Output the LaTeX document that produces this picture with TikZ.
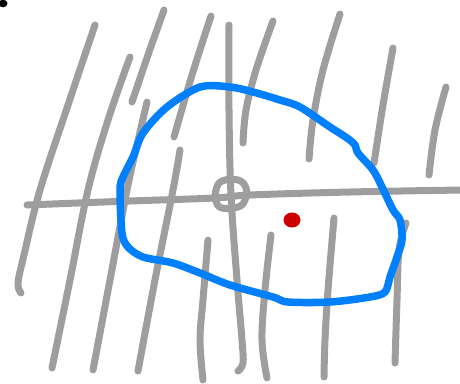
\documentclass[tikz,border=0pt]{standalone}
\definecolor{sketchgrey}{RGB}{158,158,158}
\definecolor{sketchblue}{RGB}{0,128,255}
\definecolor{sketchred}{RGB}{204,0,0}
\begin{document}
\begin{tikzpicture}[x=1pt,y=-1pt,
  pen/.style={line width=7pt,line cap=round,line join=round},
  grey/.style={pen,draw=sketchgrey},
  bluepen/.style={line width=7.5pt,line cap=round,line join=round,draw=sketchblue}]
\useasboundingbox (0,0) rectangle (460,383);
% black dot
\fill[black] (3,3.5) ellipse [x radius=4.5, y radius=3.8];
% slanted strokes
\draw[grey] plot[smooth,tension=0.6] coordinates {(95,25) (68,105) (40,190) (24,255) (18,283) (21,293)};
\draw[grey] plot[smooth,tension=0.6] coordinates {(130,57) (108,120) (88,190) (70,280) (52,368)};
\draw[grey] plot[smooth,tension=0.6] coordinates {(164,10) (148,55) (132,102)};
\draw[grey] plot[smooth,tension=0.6] coordinates {(147,102) (137,145) (127,190) (110,280) (93,370)};
\draw[grey] plot[smooth,tension=0.6] coordinates {(211,16) (192,75) (174,137)};
\draw[grey] plot[smooth,tension=0.6] coordinates {(180,150) (173,190) (155,280) (138,371)};
\draw[grey] plot[smooth,tension=0.6] coordinates {(229,25) (229,110) (231,195) (237,280) (242,340) (243,363) (238,371)};
\draw[grey] plot[smooth,tension=0.6] coordinates {(273,21) (256,70) (246,110) (243,143)};
\draw[grey] plot[smooth,tension=0.6] coordinates {(340,14) (323,70) (313,120) (309,159)};
\draw[grey] plot[smooth,tension=0.6] coordinates {(393,48) (383,105) (374,163)};
\draw[grey] plot[smooth,tension=0.6] coordinates {(446,87) (435,130) (429,175)};
% horizontal
\draw[grey] plot[smooth,tension=0.6] coordinates {(27,205) (130,201) (215,198) (250,195) (350,192) (462,190)};
% bottom strokes
\draw[grey] plot[smooth,tension=0.6] coordinates {(208,240) (203,300) (200,340) (203,380)};
\draw[grey] plot[smooth,tension=0.6] coordinates {(271,235) (265,290) (262,340) (267,378)};
\draw[grey] plot[smooth,tension=0.6] coordinates {(334,218) (328,290) (325,340) (324,377)};
\draw[grey] plot[smooth,tension=0.6] coordinates {(406,223) (399,250) (397,300) (395,363)};
% small ring
\draw[grey] plot[smooth cycle,tension=0.7] coordinates {(216,190) (222,181) (238,180) (246,188) (245,200) (238,207) (222,208) (216,201)};
% red dot
\fill[sketchred] (292,220) ellipse [x radius=8.5, y radius=7.5];
% blue loop
\draw[bluepen] plot[smooth cycle,tension=0.5] coordinates {(230,87) (253,92) (280,100) (300,107) (330,127) (347,138) (355,145) (358,153) (373,170) (382,187) (393,210) (400,220) (402,240) (397,257) (390,277) (385,292) (370,297) (330,302) (288,302) (273,297) (230,285) (200,273) (173,263) (143,257) (128,247) (122,233) (120,190) (123,177) (133,157) (143,133) (167,107) (200,87)};
\end{tikzpicture}
\end{document}
